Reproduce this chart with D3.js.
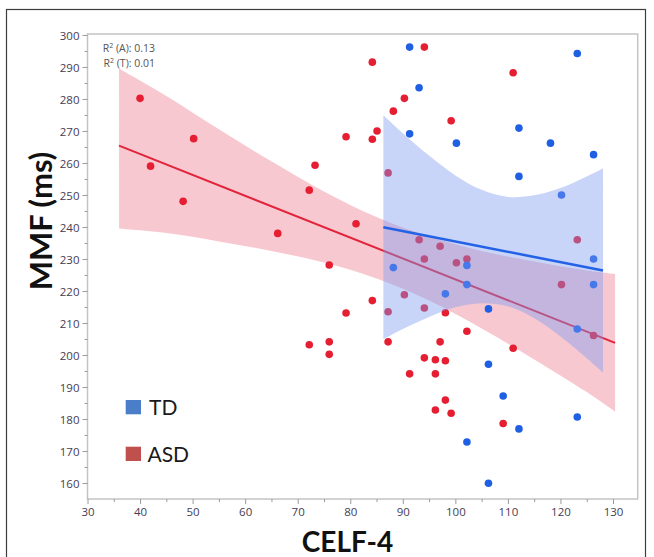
<!DOCTYPE html>
<html>
<head>
<meta charset="utf-8">
<script src="https://cdn.jsdelivr.net/npm/d3@7"></script>
<style>
  html, body { margin: 0; padding: 0; background: #fff; }
  svg { display: block; }
</style>
</head>
<body>
<svg id="chart" width="654" height="557"></svg>
<script>
// ---------- data ----------
const asdX = [40.0, 42.0, 48.2, 50.2, 66.2, 72.2, 73.3, 76.0, 79.2, 81.1, 84.2, 85.1, 84.2, 79.2, 72.2, 76.0, 76.0,
  84.2, 94.1, 90.3, 88.2, 99.2, 111.0, 87.2, 93.1, 97.1, 94.1, 100.2, 102.2, 123.2, 90.3, 87.2, 94.1, 98.1,
  120.2, 126.3, 102.2, 87.2, 97.1, 94.1, 96.2, 98.1, 91.3, 96.2, 111.0, 98.1, 96.2, 99.2, 109.1];
const asdY = [280.2, 259.0, 248.0, 267.6, 238.0, 251.5, 259.3, 228.1, 268.2, 241.0, 267.4, 270.0, 217.0, 213.1, 203.2, 204.1, 200.2,
  291.5, 296.2, 280.2, 276.2, 273.2, 288.2, 256.9, 236.0, 234.0, 230.0, 228.8, 230.0, 236.0, 218.8, 213.5, 214.7, 213.2,
  222.0, 206.1, 207.4, 204.1, 204.1, 199.1, 198.5, 198.2, 194.1, 194.1, 202.1, 185.9, 182.8, 181.8, 178.6];

const tdX = [91.3, 93.1, 91.3, 100.2, 112.1, 118.1, 123.2, 126.3, 112.1, 120.2, 126.3, 88.2, 102.2, 102.2, 98.1, 106.3,
  126.3, 123.2, 106.3, 109.1, 112.1, 123.2, 102.2, 106.3];
const tdY = [296.2, 283.5, 269.1, 266.2, 270.9, 266.2, 294.2, 262.6, 255.8, 250.0, 230.0, 227.3, 228.0, 222.0, 219.1, 214.4,
  222.0, 208.1, 197.1, 187.2, 176.9, 180.6, 172.8, 159.9];

// fitted lines (end points) and confidence bands
const asdFitX = [36.0, 130.4];
const asdFitY = [265.4, 203.8];
const asdBandX  = [36, 45, 55, 65, 75, 85, 95, 105, 115, 125, 130.4];
const asdBandHi = [289.5, 280.9, 270.5, 260.5, 251.1, 243.1, 237.0, 232.5, 229.2, 226.4, 225.3];
const asdBandLo = [239.5, 238.1, 235.5, 232.5, 228.9, 223.9, 217.0, 208.3, 198.6, 188.4, 182.3];

const tdFitX = [86.3, 128.1];
const tdFitY = [239.9, 226.4];
const tdBandX  = [86.3, 90, 95, 100, 105, 110, 115, 120, 125, 128.1];
const tdBandHi = [274.9, 269.3, 262.3, 256.1, 251.6, 249.4, 249.9, 252.2, 255.8, 258.3];
const tdBandLo = [204.9, 208.1, 211.9, 214.9, 216.2, 215.2, 211.5, 205.8, 199.0, 194.5];

const xTicks = [30, 40, 50, 60, 70, 80, 90, 100, 110, 120, 130];
const xMinor = [35, 45, 55, 65, 75, 85, 95, 105, 115, 125];
const yTicks = [160, 170, 180, 190, 200, 210, 220, 230, 240, 250, 260, 270, 280, 290, 300];
const yMinor = [165, 175, 185, 195, 205, 215, 225, 235, 245, 255, 265, 275, 285, 295];

const legendLabels = ["TD", "ASD"];
const r2Labels = [["A", "0.13"], ["T", "0.01"]];

// ---------- drawing ----------
const svg = d3.select("#chart");
const L = 87.5, R = 637.7, T = 34, B = 499;

const x = d3.scaleLinear().domain([30, 134.7]).range([L, R]);
const y = d3.scaleLinear().domain([155, 300.3]).range([B, T]);

// outer frame
svg.append("rect").attr("x", 6.5).attr("y", 9.5).attr("width", 639).attr("height", 600)
  .attr("fill", "none").attr("stroke", "#3c3c3c").attr("stroke-width", 1.2);

// plot frame
svg.append("rect").attr("x", L).attr("y", T).attr("width", R - L).attr("height", B - T)
  .attr("fill", "#fff").attr("stroke", "#c4c4c4").attr("stroke-width", 1.5);

const toRows = (xs, lo, hi) => xs.map((v, i) => ({x: v, lo: lo[i], hi: hi[i]}));
const area = d3.area().x(d => x(d.x)).y0(d => y(d.lo)).y1(d => y(d.hi)).curve(d3.curveCatmullRom);
const line = d3.line().x(d => x(d[0])).y(d => y(d[1]));

// ASD band
svg.append("path").datum(toRows(asdBandX, asdBandLo, asdBandHi))
  .attr("d", area).attr("fill", "#f29aab").attr("fill-opacity", 0.55);
// ASD line
svg.append("path").datum(asdFitX.map((v, i) => [v, asdFitY[i]]))
  .attr("d", line).attr("stroke", "#e2243a").attr("stroke-width", 2).attr("fill", "none");

// points
svg.append("g").selectAll("circle").data(asdX.map((v, i) => [v, asdY[i]])).join("circle")
  .attr("cx", d => x(d[0])).attr("cy", d => y(d[1])).attr("r", 3.8).attr("fill", "#e61e32");
svg.append("g").selectAll("circle").data(tdX.map((v, i) => [v, tdY[i]])).join("circle")
  .attr("cx", d => x(d[0])).attr("cy", d => y(d[1])).attr("r", 3.8).attr("fill", "#1f5fe3");

// TD band
svg.append("path").datum(toRows(tdBandX, tdBandLo, tdBandHi))
  .attr("d", area).attr("fill", "#7b9cf0").attr("fill-opacity", 0.42);
// TD line
svg.append("path").datum(tdFitX.map((v, i) => [v, tdFitY[i]]))
  .attr("d", line).attr("stroke", "#2362e6").attr("stroke-width", 2.5).attr("fill", "none");

// axes
const tickFont = "'Open Sans', 'Noto Sans', sans-serif";
const gx = svg.append("g").attr("transform", `translate(0,${B})`)
  .call(d3.axisBottom(x).tickValues(xTicks).tickSize(5).tickPadding(4).tickFormat(d3.format("d")));
const gxm = svg.append("g").attr("transform", `translate(0,${B})`)
  .call(d3.axisBottom(x).tickValues(xMinor).tickSize(3).tickFormat(""));
const gy = svg.append("g").attr("transform", `translate(${L},0)`)
  .call(d3.axisLeft(y).tickValues(yTicks).tickSize(5).tickPadding(3).tickFormat(d3.format("d")));
const gym = svg.append("g").attr("transform", `translate(${L},0)`)
  .call(d3.axisLeft(y).tickValues(yMinor).tickSize(3).tickFormat(""));
[gx, gxm, gy, gym].forEach(g => {
  g.select(".domain").remove();
  g.selectAll("line").attr("stroke", "#9a9a9a");
  g.selectAll("text").attr("fill", "#463c52").style("font-family", tickFont).style("font-size", "11.5px");
});
gy.selectAll("text").attr("dy", "0.36em");

// axis titles
svg.append("text").attr("x", 347.5).attr("y", 552).attr("text-anchor", "middle")
  .style("font-family", "Lato, 'Open Sans', sans-serif").style("font-weight", "bold").style("font-size", "28px")
  .attr("fill", "#111").text("CELF-4");
svg.append("text").attr("transform", "translate(52,221) rotate(-90)").attr("text-anchor", "middle")
  .style("font-family", "Lato, 'Open Sans', sans-serif").style("font-weight", "bold").style("font-size", "31px")
  .attr("fill", "#111").text("MMF (ms)");

// R² annotations
r2Labels.forEach((d, i) => {
  const t = svg.append("text").attr("x", 155).attr("y", 52 + i * 15).attr("text-anchor", "end")
    .style("font-family", tickFont).style("font-size", "10.5px").attr("fill", "#555");
  t.append("tspan").text("R");
  t.append("tspan").attr("dy", -4).style("font-size", "7px").text("2");
  t.append("tspan").attr("dy", 4).text(` (${d[0]}): ${d[1]}`);
});

// legend
const legendColors = ["#4a7ec9", "#c0504d"];
legendLabels.forEach((lab, i) => {
  const yy = 400 + i * 46.7;
  svg.append("rect").attr("x", 125.7).attr("y", yy).attr("width", 15.3).attr("height", 14.3)
    .attr("fill", legendColors[i]);
  svg.append("text").attr("x", i === 0 ? 149 : 147.5).attr("y", yy + 15)
    .style("font-family", "Lato, 'Open Sans', sans-serif").style("font-size", "21px").attr("fill", "#1a1a1a")
    .text(lab);
});
</script>
</body>
</html>
